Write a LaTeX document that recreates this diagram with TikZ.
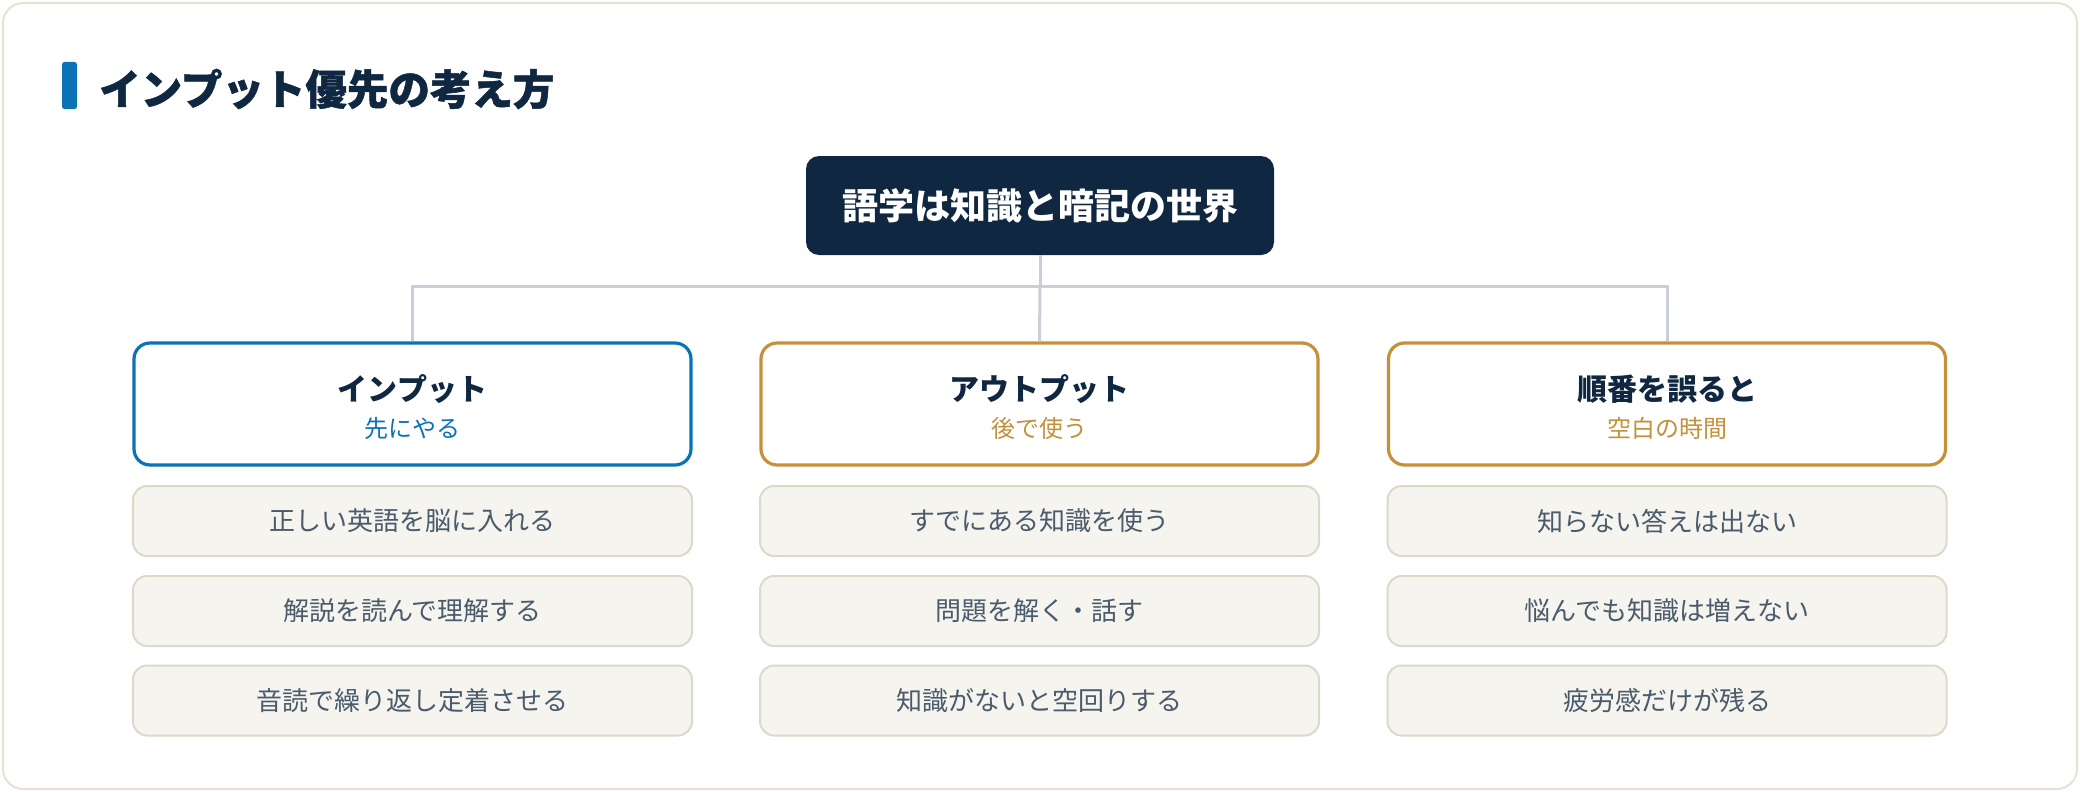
\documentclass[tikz,border=0pt]{standalone}
\usepackage{fontspec}
\setmainfont{Noto Sans CJK JP}
\newfontfamily\titlefont{Noto Sans CJK JP}[BoldFeatures={FakeBold=1.2}]
\definecolor{navy}{HTML}{0F2740}
\definecolor{accblue}{HTML}{0B72B5}
\definecolor{gold}{HTML}{C4913A}
\definecolor{linegray}{HTML}{C9CED8}
\definecolor{itemfill}{HTML}{F5F4EF}
\definecolor{itemline}{HTML}{DDD9C8}
\definecolor{itemtext}{HTML}{4A5B6B}
\definecolor{outerline}{HTML}{E6E3D5}
\tikzset{
  rootbox/.style={draw=none, fill=navy, rounded corners=13pt, minimum width=468pt, minimum height=99pt, inner sep=0pt, text=white, font=\fontsize{36}{42}\selectfont\bfseries},
  headbox/.style={draw=#1, line width=3.2pt, fill=white, rounded corners=16pt, minimum width=557pt, minimum height=122pt, inner sep=0pt},
  headtitle/.style={text=navy, inner sep=0pt, font=\fontsize{30}{34}\selectfont\bfseries},
  headsub/.style={text=#1, inner sep=0pt, font=\fontsize{24}{28}\selectfont},
  itembox/.style={draw=itemline, line width=2pt, fill=itemfill, rounded corners=14pt, minimum width=559pt, minimum height=70pt, inner sep=0pt, text=itemtext, font=\fontsize{26}{30}\selectfont},
  conn/.style={draw=linegray, line width=3pt},
}
\begin{document}
\begin{tikzpicture}[x=1pt, y=-1pt]
\useasboundingbox (0,0) rectangle (2080,792);
\draw[outerline, line width=2pt, fill=white, rounded corners=20pt] (3,3) rectangle (2077,789);
% title
\fill[accblue, rounded corners=2.5pt] (62,62) rectangle (77,109);
\node[anchor=west, inner sep=0pt, text=navy, font=\titlefont\fontsize{41.5}{48}\selectfont\bfseries] (title) at (99,89) {インプット優先の考え方};
% root
\node[rootbox] (root) at (1040,205.5) {語学は知識と暗記の世界};
% header boxes
\node[headbox=accblue] (h1) at (412.5,404) {};
\node[headbox=gold] (h2) at (1039.5,404) {};
\node[headbox=gold] (h3) at (1667,404) {};
\node[headtitle] (h1t) at (412.5,389) {インプット};
\node[headsub=accblue] (h1s) at (412.5,428) {先にやる};
\node[headtitle] (h2t) at (1039.5,389) {アウトプット};
\node[headsub=gold] (h2s) at (1039.5,428) {後で使う};
\node[headtitle] (h3t) at (1667,389) {順番を誤ると};
\node[headsub=gold] (h3s) at (1667,428) {空白の時間};
% connectors
\coordinate (bus) at (1040,286);
\draw[conn] (root.south) -- (bus);
\draw[conn] (h1.north) |- (bus) -| (h3.north);
\draw[conn] (bus) -- (h2.north);
% items
\node[itembox] (a1) at (412.5,521) {正しい英語を脳に入れる};
\node[itembox] (a2) at (412.5,611) {解説を読んで理解する};
\node[itembox] (a3) at (412.5,700.5) {音読で繰り返し定着させる};
\node[itembox] (b1) at (1039.5,521) {すでにある知識を使う};
\node[itembox] (b2) at (1039.5,611) {問題を解く・話す};
\node[itembox] (b3) at (1039.5,700.5) {知識がないと空回りする};
\node[itembox] (c1) at (1667,521) {知らない答えは出ない};
\node[itembox] (c2) at (1667,611) {悩んでも知識は増えない};
\node[itembox] (c3) at (1667,700.5) {疲労感だけが残る};
\end{tikzpicture}
\end{document}
